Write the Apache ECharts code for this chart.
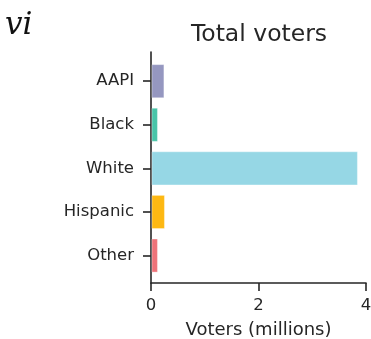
<!DOCTYPE html>
<html>
<head>
<meta charset="utf-8">
<script src="https://cdn.jsdelivr.net/npm/echarts@6/dist/echarts.min.js"></script>
<style>
  html, body { margin: 0; padding: 0; background: #fff; }
  #chart { width: 371px; height: 339px; }
</style>
</head>
<body>
<div id="chart"></div>
<script>
// data
const categories = ['AAPI', 'Black', 'White', 'Hispanic', 'Other'];
const voters = [0.24, 0.12, 3.84, 0.25, 0.12]; // millions
const barColors = ['#9597c0', '#48c4a8', '#96d7e5', '#fdb813', '#ee7379'];
const xTicks = [0, 2, 4];

const font = 'DejaVu Sans';
const ink = '#262626';

const chart = echarts.init(document.getElementById('chart'), null, { renderer: 'canvas' });

const option = {
    animation: false,
    backgroundColor: '#fff',
    title: [
        {
            text: 'Total voters',
            left: 259,
            top: 23,
            textAlign: 'center',
            padding: 0,
            textStyle: { fontFamily: font, fontSize: 23.5, fontWeight: 'normal', color: ink },
        },
        {
            text: 'vi',
            left: 5,
            top: 10,
            padding: 0,
            textStyle: { fontFamily: 'DejaVu Serif', fontStyle: 'italic', fontSize: 31, fontWeight: 'normal', color: '#111' },
        },
    ],
    // v6 would otherwise shrink the grid to keep the axis name inside the canvas
    grid: { left: 151, right: 5, top: 52, bottom: 56, outerBoundsMode: 'none' },
    xAxis: {
        type: 'value',
        min: xTicks[0],
        max: xTicks[xTicks.length - 1],
        interval: 2,
        name: 'Voters (millions)',
        nameLocation: 'middle',
        nameGap: 38,
        nameTextStyle: { fontFamily: font, fontSize: 18, color: ink },
        axisLine: { show: true, onZero: false, lineStyle: { color: ink, width: 1.6 } },
        axisTick: { show: true, length: 8, lineStyle: { color: ink, width: 1.6 } },
        axisLabel: { fontFamily: font, fontSize: 16.5, color: ink, margin: 14 },
        splitLine: { show: false },
    },
    yAxis: {
        type: 'value',
        inverse: true,
        min: -0.67,
        max: 4.63,
        axisLine: { show: true, onZero: false, lineStyle: { color: ink, width: 1.6 } },
        axisTick: { show: true, length: 8, customValues: categories.map((c, i) => i), lineStyle: { color: ink, width: 1.6 } },
        axisLabel: {
            customValues: categories.map((c, i) => i),
            formatter: (v) => categories[Math.round(v)] || '',
            fontFamily: font,
            fontSize: 16.5,
            color: ink,
            margin: 17,
        },
        splitLine: { show: false },
    },
    series: [{
        type: 'custom',
        data: voters.map((v, i) => [v, i]),
        encode: { x: 0, y: 1 },
        renderItem: (params, api) => {
            const i = api.value(1);
            const start = api.coord([0, i]);
            const end = api.coord([api.value(0), i]);
            const h = api.size([0, 1])[1] * 0.76;
            return {
                type: 'rect',
                shape: { x: start[0] + 1, y: start[1] - h / 2, width: end[0] - start[0] - 1, height: h },
                style: { fill: barColors[params.dataIndex], stroke: 'rgba(255,255,255,0.35)', lineWidth: 1 },
            };
        },
    }],
};

chart.setOption(option);
</script>
</body>
</html>
